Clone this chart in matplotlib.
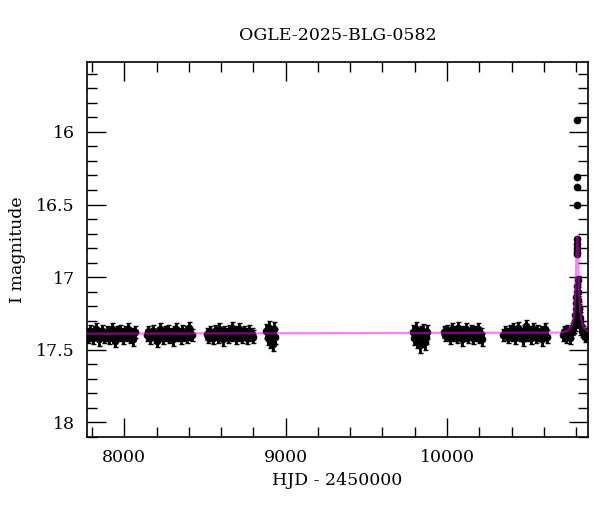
import numpy as np
import matplotlib
matplotlib.use("Agg")
import matplotlib.pyplot as plt
from matplotlib.ticker import MultipleLocator

plt.rcParams['font.family'] = ['DejaVu Serif']

title = "OGLE-2025-BLG-0582"
xlabel = "HJD - 2450000"
ylabel = "I magnitude"

# ---- observing seasons (HJD-2450000, I mag) ----
s1_t = [7765, 7775, 7785, 7795, 7805, 7815, 7825, 7835, 7845, 7855, 7865, 7875, 7885, 7895, 7905, 7915,
        7925, 7935, 7945, 7955, 7965, 7975, 7985, 7995, 8005, 8015, 8025, 8035, 8045, 8055, 8065]
s1_m = [17.39, 17.41, 17.37, 17.40, 17.42, 17.38, 17.36, 17.40, 17.43, 17.39, 17.37, 17.41, 17.40, 17.38, 17.42, 17.39,
        17.36, 17.41, 17.44, 17.38, 17.40, 17.37, 17.39, 17.42, 17.38, 17.40, 17.36, 17.41, 17.39, 17.43, 17.38]

s2_t = [8140, 8150, 8160, 8170, 8180, 8190, 8200, 8210, 8220, 8230, 8240, 8250, 8260, 8270, 8280,
        8290, 8300, 8310, 8320, 8330, 8340, 8350, 8360, 8370, 8380, 8390, 8400, 8410, 8420]
s2_m = [17.40, 17.38, 17.42, 17.39, 17.37, 17.41, 17.44, 17.39, 17.36, 17.40, 17.42, 17.38, 17.40, 17.37, 17.41,
        17.39, 17.43, 17.38, 17.36, 17.40, 17.39, 17.42, 17.37, 17.40, 17.38, 17.41, 17.35, 17.39, 17.40]

s3_t = [8510, 8520, 8530, 8540, 8550, 8560, 8570, 8580, 8590, 8600, 8610, 8620, 8630, 8640, 8650,
        8660, 8670, 8680, 8690, 8700, 8710, 8720, 8730, 8740, 8750, 8760, 8770, 8780, 8790, 8800]
s3_m = [17.39, 17.41, 17.38, 17.40, 17.42, 17.37, 17.39, 17.41, 17.36, 17.40, 17.43, 17.38, 17.39, 17.41, 17.37,
        17.40, 17.35, 17.39, 17.42, 17.38, 17.36, 17.40, 17.41, 17.38, 17.39, 17.42, 17.37, 17.40, 17.39, 17.41]

s4_t = [8880, 8888, 8896, 8904, 8912, 8920, 8928, 8936]
s4_m = [17.37, 17.42, 17.35, 17.44, 17.39, 17.46, 17.36, 17.41]

s5_t = [9790, 9798, 9806, 9814, 9822, 9830, 9838, 9846, 9854, 9862, 9870, 9878]
s5_m = [17.38, 17.42, 17.36, 17.44, 17.40, 17.47, 17.39, 17.43, 17.37, 17.45, 17.41, 17.38]

s6_t = [9980, 9990, 10000, 10010, 10020, 10030, 10040, 10050, 10060, 10070, 10080, 10090, 10100,
        10110, 10120, 10130, 10140, 10150, 10160, 10170, 10180, 10190, 10200, 10210, 10218]
s6_m = [17.38, 17.40, 17.37, 17.39, 17.42, 17.36, 17.40, 17.38, 17.41, 17.35, 17.39, 17.43, 17.38,
        17.40, 17.36, 17.41, 17.39, 17.37, 17.42, 17.38, 17.40, 17.36, 17.41, 17.39, 17.43]

s7_t = [10350, 10360, 10370, 10380, 10390, 10400, 10410, 10420, 10430, 10440, 10450, 10460, 10470, 10480,
        10490, 10500, 10510, 10520, 10530, 10540, 10550, 10560, 10570, 10580, 10590, 10600, 10610, 10620]
s7_m = [17.40, 17.38, 17.39, 17.41, 17.37, 17.40, 17.36, 17.42, 17.38, 17.35, 17.40, 17.39, 17.43, 17.37,
        17.34, 17.40, 17.38, 17.42, 17.36, 17.39, 17.41, 17.37, 17.40, 17.38, 17.43, 17.39, 17.36, 17.41]

s8_t = [10720, 10728, 10736, 10744, 10752, 10760, 10768, 10776, 10784]
s8_m = [17.40, 17.38, 17.41, 17.37, 17.39, 17.42, 17.38, 17.36, 17.35]

season_err = 0.042
wide_err = 0.05

# ---- the event ----
ev_t = [10788, 10791, 10793, 10796, 10798, 10800, 10802, 10804, 10805, 10806, 10806.5, 10807, 10807.5,
        10806, 10806.5, 10807, 10807.5, 10808, 10809, 10810, 10812, 10815, 10818, 10822, 10826,
        10830, 10836, 10842, 10850, 10858, 10866]
ev_m = [17.34, 17.33, 17.30, 17.26, 17.22, 17.18, 17.14, 17.10, 17.06, 15.92, 16.31, 16.38, 16.50,
        16.74, 16.77, 16.80, 16.83, 16.84, 17.02, 17.10, 17.16, 17.21, 17.22, 17.28, 17.31,
        17.34, 17.37, 17.38, 17.39, 17.41, 17.39]
ev_e = [0.045, 0.04, 0.04, 0.04, 0.04, 0.035, 0.035, 0.03, 0.03, 0.006, 0.01, 0.01, 0.012,
        0.015, 0.015, 0.015, 0.015, 0.015, 0.025, 0.03, 0.03, 0.035, 0.035, 0.04, 0.04,
        0.04, 0.04, 0.04, 0.04, 0.04, 0.04]

# ---- model curve ----
model_t0 = 10807
model_dt = [-3040, -100, -75, -55, -40, -32, -25, -20, -16, -12, -9, -6, -3, 0,
            3, 6, 9, 12, 16, 20, 25, 32, 40, 55, 75]
model_m = [17.39, 17.383, 17.377, 17.367, 17.347, 17.326, 17.291, 17.247, 17.191, 17.104, 17.009, 16.89, 16.774, 16.72,
           16.774, 16.89, 17.009, 17.104, 17.191, 17.247, 17.291, 17.326, 17.347, 17.367, 17.377]

fig = plt.figure(figsize=(6.0, 5.12), dpi=100)
ax = fig.add_axes([0.1455, 0.1471, 0.834, 0.7312])

eb_kw = dict(fmt='o', color='black', ms=4.5, elinewidth=2.0, capsize=1.8, capthick=1.0, zorder=2)
for t, m, e in [(s1_t, s1_m, season_err), (s2_t, s2_m, season_err), (s3_t, s3_m, season_err),
                (s4_t, s4_m, wide_err), (s5_t, s5_m, wide_err), (s6_t, s6_m, season_err),
                (s7_t, s7_m, season_err), (s8_t, s8_m, season_err)]:
    ax.errorbar(t, m, yerr=e, **eb_kw)
ax.errorbar(ev_t, ev_m, yerr=ev_e, **eb_kw)

ax.plot(model_t0 + np.array(model_dt), model_m, color='magenta', alpha=0.5, lw=1.6, zorder=3)

ax.set_xlim(7771, 10872)
ax.set_ylim(18.1, 15.52)

ax.xaxis.set_major_locator(MultipleLocator(1000))
ax.xaxis.set_minor_locator(MultipleLocator(200))
ax.yaxis.set_minor_locator(MultipleLocator(0.1))
ax.set_yticks([16, 16.5, 17, 17.5, 18])
ax.set_yticklabels(["16", "16.5", "17", "17.5", "18"])

ax.tick_params(which='both', direction='in', top=True, right=True, labelsize=12.5, width=1.0)
ax.tick_params(which='major', length=13.5, pad=9)
ax.tick_params(which='minor', length=7)
for sp in ax.spines.values():
    sp.set_linewidth(1.2)

ax.set_title(title, fontsize=12.5, pad=16)
ax.set_xlabel(xlabel, fontsize=12.5, labelpad=4)
ax.set_ylabel(ylabel, fontsize=12.5, labelpad=7)

fig.savefig("out.png", dpi=100)
